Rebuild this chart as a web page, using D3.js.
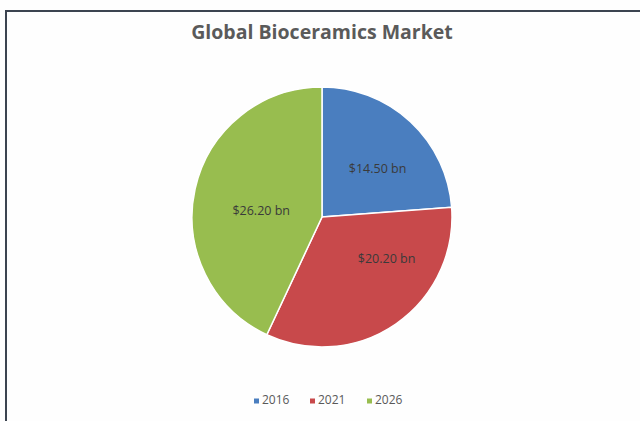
<!DOCTYPE html>
<html>
<head>
<meta charset="utf-8">
<script src="https://cdn.jsdelivr.net/npm/d3@7"></script>
<style>
  body { margin: 0; background: #fff; }
  svg { display: block; }
</style>
</head>
<body>
<script>
// chart data
var years = ["2016", "2021", "2026"];
var values = [14.50, 20.20, 26.20];
var valueLabels = ["$14.50 bn", "$20.20 bn", "$26.20 bn"];
var colors = ["#4a7ebf", "#c8494b", "#98bd4f"];

var width = 640, height = 421;
var cx = 322, cy = 217, radius = 130;

var svg = d3.select("body").append("svg")
    .attr("width", width)
    .attr("height", height);

svg.append("rect")
    .attr("width", width).attr("height", height)
    .attr("fill", "#fefefe");

// frame (top and left edges visible)
svg.append("path")
    .attr("d", "M6," + (height + 5) + "V11H" + (width + 5))
    .attr("fill", "none")
    .attr("stroke", "#3c4450")
    .attr("stroke-width", 2);

// title
svg.append("text")
    .attr("x", cx)
    .attr("y", 39)
    .attr("text-anchor", "middle")
    .style("font-family", "'Open Sans', sans-serif")
    .style("font-weight", "bold")
    .style("font-size", "19.5px")
    .style("fill", "#5a5a5a")
    .text("Global Bioceramics Market");

var pie = d3.pie().sort(null).value(function(d) { return d; });
var arcs = pie(values);

var arc = d3.arc().innerRadius(0).outerRadius(radius);
var labelArc = d3.arc().innerRadius(radius * 0.55).outerRadius(radius * 0.55);

var g = svg.append("g")
    .attr("transform", "translate(" + cx + "," + cy + ")");

g.selectAll(".slice")
    .data(arcs)
  .enter().append("path")
    .attr("class", "slice")
    .attr("d", arc)
    .attr("fill", function(d, i) { return colors[i]; })
    .attr("stroke", "#fff")
    .attr("stroke-width", 1.5);

// Excel-style label nudges
var nudge = [[7, 5], [24, -16], [9, 10]];

g.selectAll(".lbl")
    .data(arcs)
  .enter().append("text")
    .attr("class", "lbl")
    .attr("x", function(d, i) { return labelArc.centroid(d)[0] + nudge[i][0]; })
    .attr("y", function(d, i) { return labelArc.centroid(d)[1] + nudge[i][1]; })
    .attr("text-anchor", "middle")
    .attr("dominant-baseline", "middle")
    .style("font-family", "'Open Sans', sans-serif")
    .style("font-size", "12.5px")
    .style("fill", "#3a3a3a")
    .text(function(d, i) { return valueLabels[i]; });

// legend
var legendX = [254, 310, 367];
var legend = svg.selectAll(".leg")
    .data(years)
  .enter().append("g")
    .attr("class", "leg")
    .attr("transform", function(d, i) { return "translate(" + legendX[i] + ",401)"; });

legend.append("rect")
    .attr("x", 0).attr("y", -2.5)
    .attr("width", 5).attr("height", 5)
    .attr("fill", function(d, i) { return colors[i]; });

legend.append("text")
    .attr("x", 8)
    .attr("y", 0)
    .attr("dominant-baseline", "middle")
    .style("font-family", "'Open Sans', sans-serif")
    .style("font-size", "12px")
    .style("fill", "#595959")
    .text(function(d) { return d; });
</script>
</body>
</html>
